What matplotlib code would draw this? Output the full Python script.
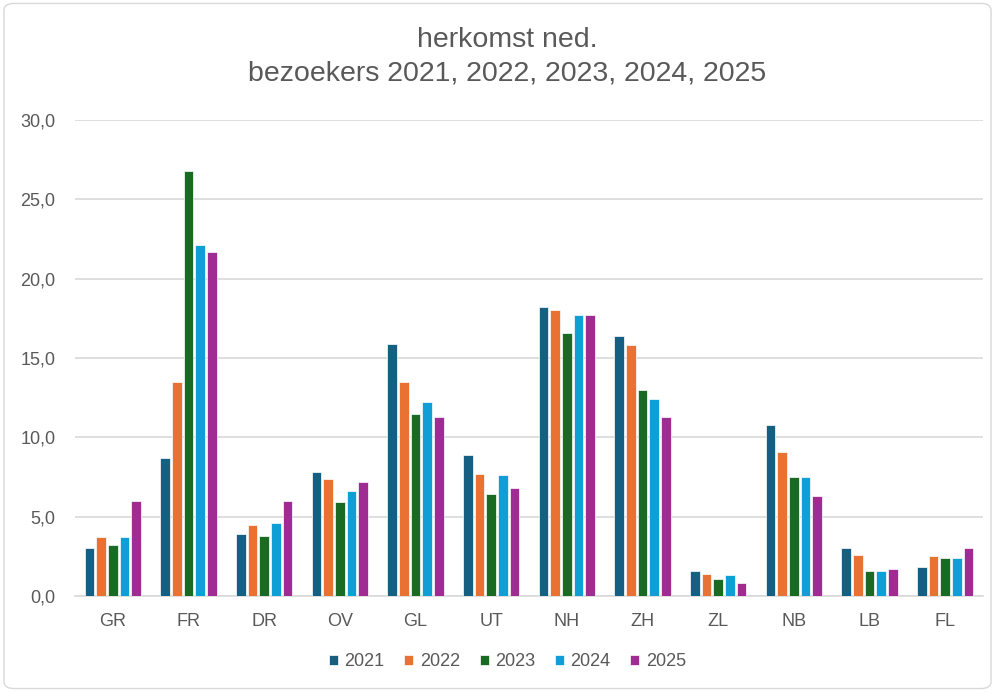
import numpy as np
import matplotlib.pyplot as plt
from matplotlib.patches import FancyBboxPatch

plt.rcParams['font.family'] = ['Liberation Sans', 'DejaVu Sans']

provincies = ['GR', 'FR', 'DR', 'OV', 'GL', 'UT', 'NH', 'ZH', 'ZL', 'NB', 'LB', 'FL']
jaren = ['2021', '2022', '2023', '2024', '2025']

w2021 = [3.0, 8.7, 3.9, 7.8, 15.9, 8.9, 18.2, 16.4, 1.6, 10.8, 3.0, 1.8]
w2022 = [3.7, 13.5, 4.5, 7.4, 13.5, 7.7, 18.0, 15.8, 1.4, 9.1, 2.6, 2.5]
w2023 = [3.2, 26.8, 3.8, 5.9, 11.5, 6.4, 16.6, 13.0, 1.1, 7.5, 1.6, 2.4]
w2024 = [3.7, 22.1, 4.6, 6.6, 12.2, 7.6, 17.7, 12.4, 1.3, 7.5, 1.6, 2.4]
w2025 = [6.0, 21.7, 6.0, 7.2, 11.3, 6.8, 17.7, 11.3, 0.8, 6.3, 1.7, 3.0]

kleuren = ['#156082', '#e97132', '#196b24', '#0f9ed5', '#a02b93']
grijs = '#595959'

fig = plt.figure(figsize=(9.95, 6.92), dpi=100)
ax = fig.add_axes([75 / 995, 96 / 692, 908 / 995, 476 / 692])

x = np.arange(len(provincies))
pitch = 0.154
breedte = 0.125
reeksen = [w2021, w2022, w2023, w2024, w2025]
for i, (waarden, kleur, jaar) in enumerate(zip(reeksen, kleuren, jaren)):
    ax.bar(x + (i - 2) * pitch, waarden, breedte, color=kleur, label=jaar,
           edgecolor='white', linewidth=0.5, zorder=3)

ax.set_xlim(-0.5, len(provincies) - 0.5)
ax.set_ylim(0, 30)
ax.set_yticks(np.arange(0, 31, 5))
ax.set_yticklabels([f'{v:.1f}'.replace('.', ',') for v in np.arange(0, 31, 5)])
ax.set_xticks(x)
ax.set_xticklabels(provincies)
ax.tick_params(axis='both', length=0, labelsize=13, colors=grijs)
ax.tick_params(axis='y', pad=14)
ax.tick_params(axis='x', pad=12)
ax.grid(axis='y', color='#d9d9d9', linewidth=1.2, zorder=0)
for s in ['top', 'right', 'left']:
    ax.spines[s].set_visible(False)
ax.spines['bottom'].set_color('#d9d9d9')
ax.spines['bottom'].set_linewidth(1.2)

fig.text(0.51, 1 - 40 / 692, 'herkomst ned.', ha='center', va='center',
         fontsize=20.5, color=grijs)
fig.text(0.51, 1 - 74 / 692, 'bezoekers 2021, 2022, 2023, 2024, 2025', ha='center',
         va='center', fontsize=20.5, color=grijs)

leg = fig.legend(loc='center', bbox_to_anchor=(0.51, 1 - 662 / 692), ncol=5,
                 frameon=False, fontsize=13, handlelength=0.5, handleheight=0.5,
                 handletextpad=0.35, columnspacing=1.1)
for t in leg.get_texts():
    t.set_color(grijs)

rand = FancyBboxPatch((0.004, 0.005), 0.992, 0.99, boxstyle='round,pad=0,rounding_size=0.01',
                      transform=fig.transFigure, fill=False, edgecolor='#d9d9d9',
                      linewidth=1)
fig.patches.append(rand)

fig.savefig('out.png', dpi=100)
